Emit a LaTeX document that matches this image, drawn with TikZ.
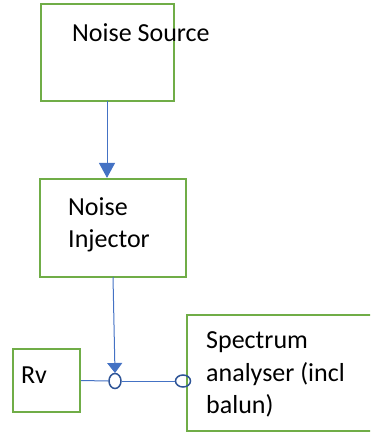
\documentclass[tikz,border=0pt]{standalone}
\usepackage{fontspec}
\setmainfont{Carlito}
\usetikzlibrary{arrows.meta,shapes.geometric}
\definecolor{boxgreen}{RGB}{112,173,71}
\definecolor{arrowblue}{RGB}{68,114,196}
\definecolor{ringblue}{RGB}{47,85,151}
\begin{document}
\begin{tikzpicture}[x=1pt,y=-1pt,
  blockbox/.style={draw=boxgreen,line width=2.2pt,rectangle,inner sep=0pt},
  txt/.style={anchor=base west,inner sep=0pt,font=\fontsize{26}{32}\selectfont},
  wire/.style={draw=arrowblue,line width=1pt},
  ring/.style={draw=ringblue,line width=1.5pt,ellipse,inner sep=0pt}]
\useasboundingbox (0,0) rectangle (370,433);
\clip (0,0) rectangle (370,433);
\node[blockbox,minimum width=133pt,minimum height=97pt] (src) at (107.5,52.5) {};
\node[blockbox,minimum width=146pt,minimum height=98pt] (inj) at (113,228) {};
\node[blockbox,minimum width=67pt,minimum height=63pt] (rv) at (46.5,380.5) {};
\node[blockbox,minimum width=200pt,minimum height=116pt,anchor=west] (spec) at (186,373) {};
\node[txt] (tsrc) at (72,41.5) {Noise Source};
\node[txt] (tinj1) at (68,215) {Noise};
\node[txt] (tinj2) at (68,247) {Injector};
\node[txt] (trv) at (21,383) {Rv};
\node[txt] (ts1) at (206,348) {Spectrum};
\node[txt] (ts2) at (206,381) {analyser (incl};
\node[txt] (ts3) at (206,413) {balun)};
\coordinate (j) at (115,381);
\coordinate (jt) at (115,373);
\coordinate (s1) at (107,101);
\coordinate (i1) at (113,277);
\node[ring,minimum width=12pt,minimum height=15pt] (r1) at (j) {};
\node[ring,minimum width=15pt,minimum height=12pt] (r2) at (183,381) {};
\draw[wire,-{Triangle[length=15pt,width=16pt]}] (s1) -- (s1 |- inj.north);
\draw[wire,-{Triangle[length=10pt,width=15pt]}] (i1) -- (jt);
\draw[wire] (rv.east) -- (r1.west);
\draw[wire] (r1.east) -- (r2.west);
\end{tikzpicture}
\end{document}
